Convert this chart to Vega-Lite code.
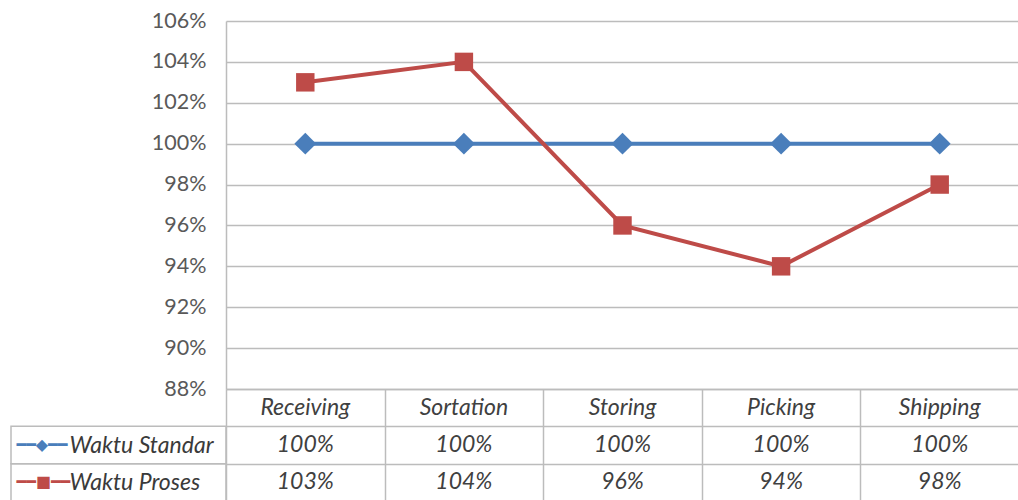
{
  "$schema": "https://vega.github.io/schema/vega-lite/v6.json",
  "autosize": {"type": "pad"},
  "padding": {"left": 10, "top": 10, "right": 0, "bottom": 0},
  "background": "white",
  "config": {"view": {"stroke": null}, "font": "Lato"},
  "bounds": "flush",
  "spacing": 0,
  "columns": 2,
  "datasets": {
    "d": [
      {"step": "Receiving", "series": "Waktu Standar", "value": 1.00},
      {"step": "Sortation", "series": "Waktu Standar", "value": 1.00},
      {"step": "Storing", "series": "Waktu Standar", "value": 1.00},
      {"step": "Picking", "series": "Waktu Standar", "value": 1.00},
      {"step": "Shipping", "series": "Waktu Standar", "value": 1.00},
      {"step": "Receiving", "series": "Waktu Proses", "value": 1.03},
      {"step": "Sortation", "series": "Waktu Proses", "value": 1.04},
      {"step": "Storing", "series": "Waktu Proses", "value": 0.96},
      {"step": "Picking", "series": "Waktu Proses", "value": 0.94},
      {"step": "Shipping", "series": "Waktu Proses", "value": 0.98}
    ]
  },
  "concat": [
    {
      "width": 215,
      "height": 368,
      "data": {"values": []},
      "mark": {"type": "point", "opacity": 0}
    },
    {
      "width": 793,
      "height": 368,
      "data": {"name": "d"},
      "encoding": {
        "x": {
          "field": "step", "type": "nominal",
          "scale": {"type": "band", "domain": ["Receiving", "Sortation", "Storing", "Picking", "Shipping"], "paddingInner": 0, "paddingOuter": 0},
          "axis": null
        },
        "y": {
          "field": "value", "type": "quantitative",
          "scale": {"domain": [0.88, 1.06], "zero": false, "nice": false},
          "axis": {
            "title": null,
            "values": [0.88, 0.90, 0.92, 0.94, 0.96, 0.98, 1.00, 1.02, 1.04, 1.06],
            "format": ".0%",
            "grid": true,
            "gridColor": "#bcbcbc",
            "gridWidth": 1.5,
            "domain": true,
            "domainColor": "#bcbcbc",
            "domainWidth": 1.5,
            "ticks": false,
            "labelFontSize": 21.5,
            "labelColor": "#595959",
            "labelPadding": 20
          }
        },
        "color": {
          "field": "series", "type": "nominal",
          "scale": {"domain": ["Waktu Standar", "Waktu Proses"], "range": ["#4a7ebb", "#be4b48"]},
          "legend": null
        }
      },
      "layer": [
        {"mark": {"type": "line", "strokeWidth": 4}},
        {
          "mark": {"type": "point", "filled": true, "opacity": 1},
          "encoding": {
            "shape": {
              "field": "series", "type": "nominal",
              "scale": {"domain": ["Waktu Standar", "Waktu Proses"], "range": ["diamond", "square"]},
              "legend": null
            },
            "size": {
              "field": "series", "type": "nominal",
              "scale": {"domain": ["Waktu Standar", "Waktu Proses"], "range": [480, 340]},
              "legend": null
            }
          }
        }
      ]
    },
    {
      "width": 215,
      "height": 112,
      "data": {"name": "d"},
      "transform": [{"filter": "datum.step == 'Receiving'"}],
      "encoding": {
        "y": {
          "field": "series", "type": "nominal",
          "scale": {"type": "band", "domain": ["hdr", "Waktu Standar", "Waktu Proses"], "paddingInner": 0, "paddingOuter": 0},
          "axis": {
            "title": null,
            "domain": false,
            "ticks": false,
            "grid": false,
            "labelExpr": "datum.value == 'Waktu Standar' ? '━━◆━━' : datum.value == 'Waktu Proses' ? '━━■━━' : ''",
            "labelFont": "DejaVu Sans",
            "labelFontSize": 16,
            "labelAlign": "left",
            "labelPadding": -5,
            "labelColor": {"condition": {"test": "datum.value == 'Waktu Proses'", "value": "#be4b48"}, "value": "#4a7ebb"}
          }
        }
      },
      "layer": [
        {"mark": {"type": "rect", "fill": null, "stroke": "#bcbcbc", "strokeWidth": 1.5}}
      ]
    },
    {
      "width": 793,
      "height": 112,
      "data": {"name": "d"},
      "encoding": {
        "x": {
          "field": "step", "type": "nominal",
          "scale": {"type": "band", "domain": ["Receiving", "Sortation", "Storing", "Picking", "Shipping"], "paddingInner": 0, "paddingOuter": 0},
          "axis": {"title": null, "labels": false, "ticks": false, "domain": false, "grid": true, "tickBand": "extent", "gridColor": "#bcbcbc", "gridWidth": 1.5}
        }
      },
      "layer": [
        {
          "mark": {"type": "text", "fontSize": 23, "fontStyle": "italic", "color": "#404040"},
          "encoding": {
            "y": {
              "field": "series", "type": "nominal",
              "scale": {"type": "band", "domain": ["hdr", "Waktu Standar", "Waktu Proses"], "paddingInner": 0, "paddingOuter": 0},
              "axis": {
                "title": null,
                "domain": false,
                "ticks": false,
                "grid": true,
                "tickBand": "extent",
                "gridColor": "#bcbcbc",
                "gridWidth": 1.5,
                "labelExpr": "datum.value == 'hdr' ? '' : datum.value",
                "labelFontSize": 23,
                "labelFontStyle": "italic",
                "labelColor": "#3a3a3a",
                "labelAlign": "left",
                "labelPadding": 157
              }
            },
            "text": {"field": "value", "type": "quantitative", "format": ".0%"}
          }
        },
        {
          "transform": [{"filter": "datum.series == 'Waktu Standar'"}],
          "mark": {"type": "text", "fontSize": 23, "fontStyle": "italic", "color": "#404040"},
          "encoding": {
            "y": {"datum": "hdr", "type": "nominal"},
            "text": {"field": "step", "type": "nominal"}
          }
        }
      ]
    }
  ]
}
